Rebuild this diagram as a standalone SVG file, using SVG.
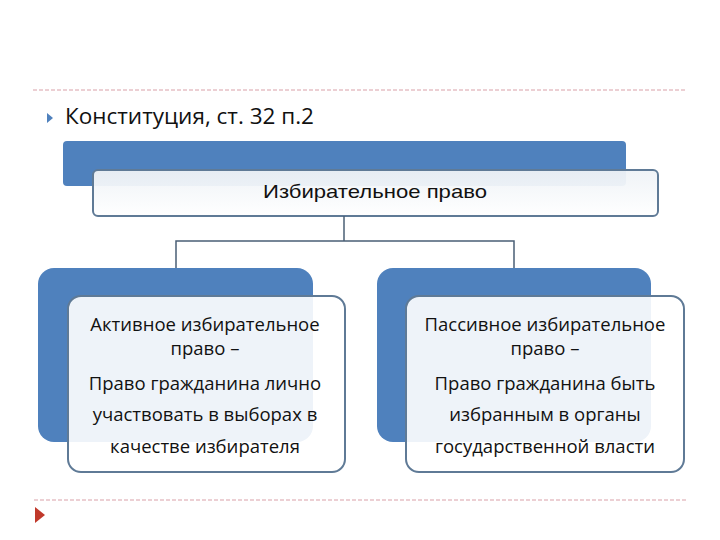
<svg xmlns="http://www.w3.org/2000/svg" width="720" height="540" viewBox="0 0 720 540">
<defs>
<style>
.sep{stroke:#d9a0a8;stroke-width:1;stroke-dasharray:4,2;fill:none}
.blue{fill:#4f81bd}
.card{fill:#ffffff;fill-opacity:0.9;stroke:#5f7a96;stroke-width:2}
.conn{stroke:#4a5f75;stroke-width:1.5;fill:none}
.t{font-family:"Open Sans","Noto Sans","DejaVu Sans",sans-serif;font-size:18.5px;fill:#111;text-anchor:middle}
.title{font-family:"Open Sans","Noto Sans","DejaVu Sans",sans-serif;font-size:22.5px;fill:#111}
.hdr{font-family:"Liberation Sans",Arial,sans-serif;font-size:19px;fill:#111;text-anchor:middle}
</style>
<linearGradient id="g" x1="0" y1="0" x2="0" y2="1">
<stop offset="0" stop-color="#eef2f6"/>
<stop offset="1" stop-color="#ffffff"/>
</linearGradient>
</defs>
<rect width="720" height="540" fill="#ffffff"/>
<line class="sep" x1="33" y1="90" x2="686" y2="90"/>
<line class="sep" x1="34" y1="500" x2="686" y2="500"/>
<polygon points="47,113 53,118 47,123" fill="#4f81bd"/>
<polygon points="35,507 45,515 35,523" fill="#c0392b"/>
<text class="title" x="65" y="124">Конституция, ст. 32 п.2</text>

<g id="root">
<rect class="blue" x="63" y="141" width="563" height="45" rx="4"/>
<rect x="93" y="170" width="565" height="46" rx="5" fill="url(#g)" fill-opacity="0.95" stroke="#5f7a96" stroke-width="2"/>
<text class="hdr" x="375" y="198" textLength="224" lengthAdjust="spacingAndGlyphs">Избирательное право</text>
</g>

<g id="connectors">
<polyline class="conn" points="344,216 344,241"/>
<polyline class="conn" points="176,268 176,241 514,241 514,268"/>
</g>

<g id="active">
<rect class="blue" x="38" y="268" width="275" height="174" rx="16"/>
<rect class="card" x="68" y="296" width="277" height="176" rx="13"/>
<text class="t" x="205" y="331">Активное избирательное</text>
<text class="t" x="205" y="355">право –</text>
<text class="t" x="205" y="390">Право гражданина лично</text>
<text class="t" x="205" y="421">участвовать в выборах в</text>
<text class="t" x="205" y="453">качестве избирателя</text>
</g>

<g id="passive">
<rect class="blue" x="377" y="268" width="274" height="174" rx="16"/>
<rect class="card" x="406" y="296" width="278" height="176" rx="13"/>
<text class="t" x="545" y="331">Пассивное избирательное</text>
<text class="t" x="545" y="355">право –</text>
<text class="t" x="545" y="390">Право гражданина быть</text>
<text class="t" x="545" y="421">избранным в органы</text>
<text class="t" x="545" y="453">государственной власти</text>
</g>
</svg>
